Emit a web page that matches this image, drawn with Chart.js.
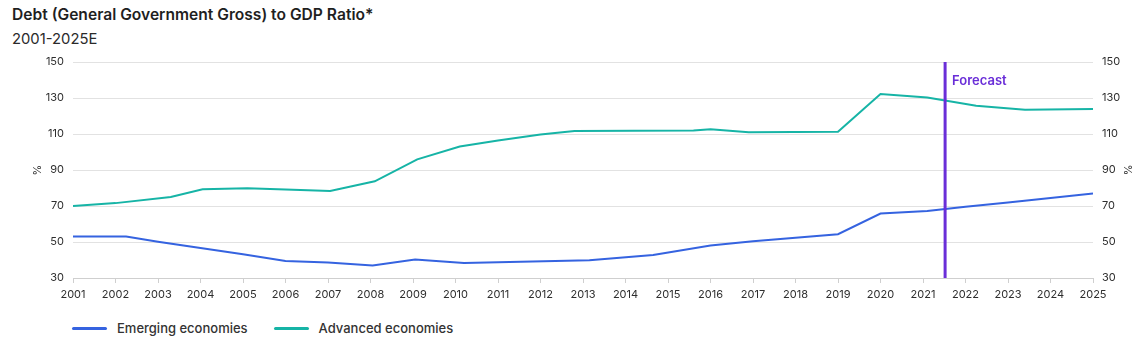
<!DOCTYPE html>
<html>
<head>
<meta charset="utf-8">
<script src="https://cdn.jsdelivr.net/npm/chart.js@4.4.1/dist/chart.umd.min.js"></script>
<style>
  html, body { margin: 0; padding: 0; background: #fff; }
  body { width: 1140px; height: 339px; position: relative; overflow: hidden; font-family: Inter, "Noto Sans", sans-serif; color: #222; }
  .head { position: absolute; left: 12px; top: 5px; }
  .head h1 { margin: 0; font-size: 15.6px; font-weight: 600; line-height: 20px; color: #1f1f1f; }
  .head h2 { margin: 4px 0 0; font-size: 14.8px; font-weight: 400; line-height: 20px; color: #2a2a2a; }
  .chart-box { position: absolute; left: 0; top: 0; width: 1140px; height: 305px; }
  .legend { position: absolute; left: 72px; top: 320px; display: flex; font-size: 13px; font-weight: 500; color: #333; }
  .legend span { display: flex; align-items: center; margin-right: 26px; }
  .legend i { display: inline-block; width: 35px; height: 3px; border-radius: 2px; margin-right: 10px; }
</style>
</head>
<body>
<div class="head">
  <h1>Debt (General Government Gross) to GDP Ratio*</h1>
  <h2>2001-2025E</h2>
</div>
<div class="chart-box"><canvas id="debtChart"></canvas></div>
<div class="legend" id="legend"></div>

<script>
// series points: decimal year -> % of GDP
const emergingYears = [2001, 2002.25, 2003, 2004, 2005, 2006, 2007, 2008.05, 2009.05, 2010.2, 2013.15, 2014.65, 2016, 2017, 2018, 2019, 2020, 2021.1, 2022, 2023, 2024, 2025];
const emergingValues = [53, 53, 50.2, 46.7, 43.2, 39.4, 38.6, 37, 40.3, 38.4, 39.9, 42.8, 48.1, 50.4, 52.3, 54.3, 65.8, 67.2, 69.6, 72, 74.5, 76.9];

const advancedYears = [2001, 2002, 2003.3, 2004.05, 2005.1, 2006, 2007.05, 2008.1, 2009.1, 2010.1, 2011, 2012, 2012.8, 2015.6, 2016, 2016.9, 2019, 2020, 2021.1, 2022.25, 2023.4, 2025];
const advancedValues = [70, 71.6, 75, 79.3, 79.9, 79.1, 78.4, 83.7, 95.9, 103.1, 106.4, 109.7, 111.6, 111.9, 112.7, 111, 111.2, 132.2, 130.3, 125.7, 123.5, 123.9];

const yearMin = 2001;
const yearMax = 2025;
const yTicks = [30, 50, 70, 90, 110, 130, 150];
const forecastStart = 2021.52;

const SERIES = [
  { label: 'Emerging economies', years: emergingYears, values: emergingValues, color: '#3563e0' },
  { label: 'Advanced economies', years: advancedYears, values: advancedValues, color: '#16b4a6' }
];

const TEXT = '#2e2e2e';
const GRID = '#e2e2e2';
const FORECAST = '#6a2ed8';

// vertical marker where the projections begin
const forecastLine = {
  id: 'forecastLine',
  afterDatasetsDraw(chart) {
    const { ctx, chartArea, scales } = chart;
    const x = scales.x.getPixelForValue(forecastStart);
    ctx.save();
    ctx.strokeStyle = FORECAST;
    ctx.lineWidth = 3;
    ctx.beginPath();
    ctx.moveTo(x, chartArea.top);
    ctx.lineTo(x, chartArea.bottom);
    ctx.stroke();
    ctx.fillStyle = FORECAST;
    ctx.font = '600 13px Inter, "Noto Sans", sans-serif';
    ctx.textBaseline = 'middle';
    ctx.fillText('Forecast', x + 7, chartArea.top + 19);
    ctx.restore();
  }
};

const tickFont = { family: 'Inter, "Noto Sans", sans-serif', size: 11 };

new Chart(document.getElementById('debtChart'), {
  type: 'line',
  data: {
    datasets: SERIES.map(s => ({
      label: s.label,
      data: s.years.map((yr, i) => ({ x: yr, y: s.values[i] })),
      borderColor: s.color,
      backgroundColor: s.color,
      borderWidth: 2,
      pointRadius: 0,
      tension: 0
    }))
  },
  options: {
    responsive: true,
    maintainAspectRatio: false,
    animation: false,
    layout: { padding: { top: 62, left: 0, right: 0, bottom: 0 } },
    plugins: {
      legend: { display: false },
      tooltip: { enabled: false }
    },
    scales: {
      x: {
        type: 'linear',
        min: yearMin,
        max: yearMax,
        afterBuildTicks: axis => {
          axis.ticks = [];
          for (let y = yearMin; y <= yearMax; y++) axis.ticks.push({ value: y });
        },
        ticks: { color: TEXT, font: tickFont, padding: 5, maxRotation: 0, autoSkip: false, callback: v => String(v) },
        grid: { drawOnChartArea: false, drawTicks: true, tickLength: 5, color: '#cfcfcf' },
        border: { color: '#cfcfcf' },
        afterFit: axis => { axis.height = 27; }
      },
      y: {
        position: 'left',
        min: 30,
        max: 150,
        afterBuildTicks: axis => { axis.ticks = yTicks.map(v => ({ value: v })); },
        ticks: { color: TEXT, font: tickFont, padding: 9 },
        grid: { color: GRID, drawTicks: false },
        border: { display: false },
        title: { display: true, text: '%', color: TEXT, font: tickFont, padding: { top: 31, bottom: 0 } },
        afterFit: axis => { axis.width = 73; }
      },
      y2: {
        position: 'right',
        min: 30,
        max: 150,
        afterBuildTicks: axis => { axis.ticks = yTicks.map(v => ({ value: v })); },
        ticks: { color: TEXT, font: tickFont, padding: 9 },
        grid: { drawOnChartArea: false, drawTicks: false },
        border: { display: false },
        title: { display: true, text: '%', color: TEXT, font: tickFont, padding: { top: 6, bottom: 0 } },
        afterFit: axis => { axis.width = 47; }
      }
    }
  },
  plugins: [forecastLine]
});

// legend under the chart
document.getElementById('legend').innerHTML = SERIES
  .map(s => `<span><i style="background:${s.color}"></i>${s.label}</span>`)
  .join('');
</script>
</body>
</html>
